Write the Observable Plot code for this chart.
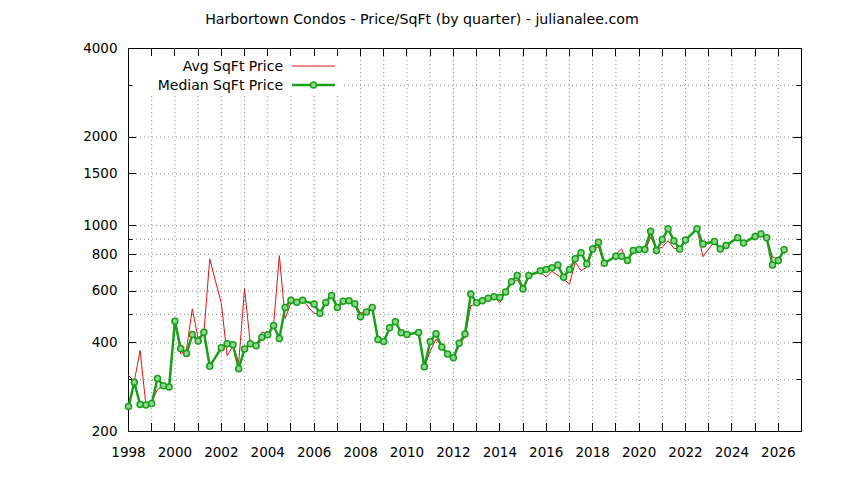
<!DOCTYPE html>
<html>
<head>
<meta charset="utf-8">
<script src="https://cdn.jsdelivr.net/npm/d3@7"></script>
<script src="https://cdn.jsdelivr.net/npm/@observablehq/plot@0.6"></script>
<style>
  html, body { margin: 0; padding: 0; background: #fff; }
  #chart { width: 844px; height: 480px; }
</style>
</head>
<body>
<div id="chart"></div>
<script>
const title = "Harbortown Condos - Price/SqFt (by quarter) - julianalee.com";
const seriesNames = ["Avg SqFt Price", "Median SqFt Price"];

// quarter index since 1998 Q1 (missing quarters omitted)
const quarterIndex = [
  0,1,2,3,4,5,6,7,8,9,10,11,12,13,14,16,17,18,19,20,21,22,23,24,25,26,27,28,29,30,
  32,33,34,35,36,37,38,39,40,41,42,43,44,45,46,47,48,50,51,52,53,54,55,56,57,58,59,60,
  61,62,63,64,65,66,67,68,69,71,72,73,74,75,76,77,78,79,80,81,82,84,85,86,87,88,89,90,
  91,92,93,94,95,96,98,99,101,102,103,105,106,108,109,110,111,112,113
];
const medianPrice = [
  243,294,247,246,249,303,286,283,474,383,368,427,406,435,333,385,397,394,327,381,397,391,418,426,458,414,528,558,550,558,
  542,504,549,580,528,554,556,543,491,509,528,411,404,450,472,433,427,434,332,404,430,387,367,356,399,429,586,547,
  556,567,574,571,596,645,677,610,677,703,710,720,736,669,710,772,810,742,834,878,746,788,788,762,824,830,831,958,
  824,898,976,890,834,895,976,867,884,834,857,910,874,920,938,910,736,762,828
];
const avgPrice = [
  310,296,377,246,252,278,286,284,474,367,381,522,415,434,772,545,362,390,343,611,397,391,436,428,458,792,483,548,552,558,
  503,504,549,578,530,554,556,545,505,509,528,411,404,450,472,433,427,434,332,375,412,387,370,356,396,418,535,543,
  556,567,574,548,596,640,655,610,677,696,669,700,678,660,632,753,704,722,824,850,736,800,834,750,824,830,815,915,
  834,845,890,838,834,895,976,785,884,815,857,910,874,920,938,910,782,772,828
];

const xLabelYears = [1998,2000,2002,2004,2006,2008,2010,2012,2014,2016,2018,2020,2022,2024,2026];
const xTickYears = [1999,2000,2001,2002,2003,2004,2005,2006,2007,2008,2009,2010,2011,2012,2013,
  2014,2015,2016,2017,2018,2019,2020,2021,2022,2023,2024,2025,2026];
const yLabelValues = [200,400,600,800,1000,1500,2000,4000];
const yMinorValues = [300,500,700,900,3000];
const yGridValues = [300,400,500,600,700,800,900,1000,1500,2000,3000];

const rows = quarterIndex.map((q, i) => ({
  year: 1998 + q / 4,
  avg: avgPrice[i],
  median: medianPrice[i]
}));

const RED = "#dd1515";
const GREEN = "#18a018";
const FONT = "DejaVu Sans";

function ticksMark(index, scales, values, dim) {
  const g = d3.create("svg:g").attr("stroke", "#000").attr("stroke-width", 1);
  const x0 = dim.marginLeft, x1 = dim.width - dim.marginRight;
  const y0 = dim.marginTop, y1 = dim.height - dim.marginBottom;
  for (const yr of xTickYears) {
    const x = Math.round(scales.x(yr)) + 0.5;
    g.append("line").attr("x1", x).attr("x2", x).attr("y1", y1).attr("y2", y1 - 8);
    g.append("line").attr("x1", x).attr("x2", x).attr("y1", y0).attr("y2", y0 + 8);
  }
  const all = yLabelValues.map(v => [v, 8]).concat(yMinorValues.map(v => [v, 4.5]));
  for (const [v, len] of all) {
    const y = Math.round(scales.y(v)) + 0.5;
    g.append("line").attr("x1", x0).attr("x2", x0 + len).attr("y1", y).attr("y2", y);
    g.append("line").attr("x1", x1).attr("x2", x1 - len).attr("y1", y).attr("y2", y);
  }
  return g.node();
}

function legendBg(index, scales, values, dim) {
  const g = d3.create("svg:g");
  g.append("rect")
    .attr("x", dim.marginLeft + 1).attr("y", dim.marginTop + 1)
    .attr("width", 212).attr("height", 46)
    .attr("fill", "#fff");
  return g.node();
}

function legendFg(index, scales, values, dim) {
  const g = d3.create("svg:g").attr("font-family", FONT).attr("font-size", 14);
  const tx = dim.marginLeft + 155;
  const lx1 = dim.marginLeft + 164, lx2 = dim.marginLeft + 207;
  const rowsY = [dim.marginTop + 18, dim.marginTop + 37];
  g.append("text").attr("x", tx).attr("y", rowsY[0]).attr("dy", "0.35em")
    .attr("text-anchor", "end").attr("fill", "#000").text(seriesNames[0]);
  g.append("line").attr("x1", lx1).attr("x2", lx2).attr("y1", rowsY[0]).attr("y2", rowsY[0])
    .attr("stroke", RED).attr("stroke-width", 1);
  g.append("text").attr("x", tx).attr("y", rowsY[1]).attr("dy", "0.35em")
    .attr("text-anchor", "end").attr("fill", "#000").text(seriesNames[1]);
  g.append("line").attr("x1", lx1).attr("x2", lx2).attr("y1", rowsY[1]).attr("y2", rowsY[1])
    .attr("stroke", GREEN).attr("stroke-width", 2.5);
  g.append("circle").attr("cx", (lx1 + lx2) / 2).attr("cy", rowsY[1]).attr("r", 3)
    .attr("stroke", GREEN).attr("stroke-width", 1.5).attr("fill", "#8fd48f");
  return g.node();
}

function titleMark(index, scales, values, dim) {
  const g = d3.create("svg:g");
  g.append("text").attr("x", dim.width / 2).attr("y", 19).attr("dy", "0.35em")
    .attr("text-anchor", "middle").attr("font-family", FONT).attr("font-size", 14.2)
    .attr("fill", "#000").text(title);
  return g.node();
}

const chart = Plot.plot({
  width: 844,
  height: 480,
  marginLeft: 128,
  marginRight: 43,
  marginTop: 48,
  marginBottom: 49,
  style: { fontFamily: FONT, fontSize: "13.5px", background: "#fff", color: "#000" },
  x: { type: "linear", domain: [1998, 2027], axis: null },
  y: { type: "log", domain: [200, 4000], axis: null },
  marks: [
    Plot.gridX(xTickYears, { stroke: "#8c8c8c", strokeOpacity: 1, strokeDasharray: "1,3" }),
    Plot.gridY(yGridValues, { stroke: "#8c8c8c", strokeOpacity: 1, strokeDasharray: "1,3" }),
    legendBg,
    Plot.frame({ stroke: "#000", strokeWidth: 1 }),
    ticksMark,
    Plot.axisX({ ticks: xLabelYears, tickSize: 0, tickPadding: 16, tickFormat: d => String(d), fontSize: 13.5, label: null }),
    Plot.axisY({ ticks: yLabelValues, tickSize: 0, tickPadding: 11, tickFormat: d => String(d), fontSize: 13.5, label: null }),
    Plot.line(rows, { x: "year", y: "avg", stroke: RED, strokeWidth: 1 }),
    Plot.line(rows, { x: "year", y: "median", stroke: GREEN, strokeWidth: 2.5 }),
    Plot.dot(rows, { x: "year", y: "median", r: 3, stroke: GREEN, strokeWidth: 1.5, fill: "#8fd48f" }),
    legendFg,
    titleMark
  ]
});

document.getElementById("chart").appendChild(chart);
</script>
</body>
</html>
